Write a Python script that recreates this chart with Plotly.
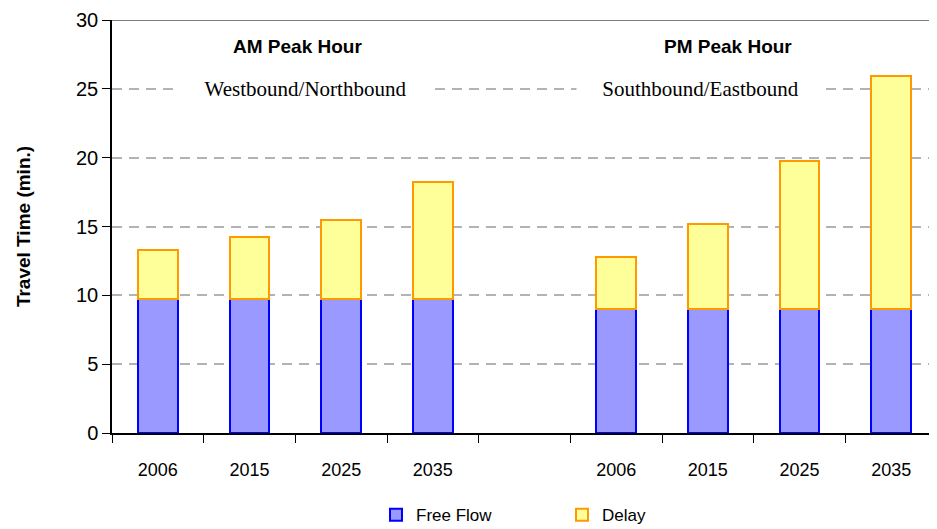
import plotly.graph_objects as go

# values (minutes)
years = ["2006", "2015", "2025", "2035"]
am_free_flow = [9.7, 9.7, 9.7, 9.7]
am_delay = [3.6, 4.55, 5.8, 8.55]
pm_free_flow = [9.0, 9.0, 9.0, 9.0]
pm_delay = [3.8, 6.2, 10.75, 16.9]

# slot layout: 4 AM years, one empty slot, 4 PM years
am_x = list(range(len(years)))
pm_x = [len(years) + 1 + i for i in range(len(years))]
x_pos = am_x + pm_x
labels = years + years
free_flow = am_free_flow + pm_free_flow
delay = am_delay + pm_delay
n_slots = len(years) * 2 + 1

SANS = "Liberation Sans, Arial"
SERIF = "Liberation Serif, Times New Roman"

fig = go.Figure()
fig.add_trace(go.Bar(
    x=x_pos, y=free_flow, name="Free Flow", width=0.43,
    marker=dict(color="#9999ff", line=dict(color="#0000ff", width=2)),
))
fig.add_trace(go.Bar(
    x=x_pos, y=delay, name="Delay", width=0.43,
    marker=dict(color="#ffff99", line=dict(color="#ff9900", width=2)),
))

# header texts over each half
notes = [
    dict(x=1.52, y=28.1, text="<b>AM Peak Hour</b>", font=dict(family=SANS, size=19, color="black")),
    dict(x=6.22, y=28.1, text="<b>PM Peak Hour</b>", font=dict(family=SANS, size=19, color="black")),
    dict(x=1.61, y=25, text="Westbound/Northbound", width=255, height=24, bgcolor="white",
         font=dict(family=SERIF, size=21, color="black")),
    dict(x=5.92, y=25, text="Southbound/Eastbound", width=245, height=24, bgcolor="white",
         font=dict(family=SERIF, size=21, color="black")),
]
for a in notes:
    fig.add_annotation(xref="x", yref="y", showarrow=False, **a)

# grey frame line along the top
fig.add_shape(type="line", xref="paper", yref="y", x0=0, x1=1, y0=30, y1=30,
              line=dict(color="#808080", width=2))

# page body has an 8px margin, so the figure is sized to the rest of the window
fig.update_layout(
    barmode="stack",
    width=929, height=521,
    margin=dict(l=104, r=0, t=12, b=96, autoexpand=False),
    paper_bgcolor="white", plot_bgcolor="white",
    font=dict(family=SANS, size=18, color="black"),
    legend=dict(
        orientation="h", x=0.32, xanchor="left", y=-0.199, yanchor="middle",
        font=dict(family=SANS, size=17, color="black"),
        entrywidth=141, entrywidthmode="pixels", traceorder="normal",
    ),
    showlegend=True,
)
fig.update_xaxes(
    range=[-0.5, n_slots - 0.5], automargin=False,
    tickmode="array", tickvals=x_pos, ticktext=labels,
    ticks="", ticklabelstandoff=20,
    showline=True, linecolor="black", linewidth=1.5,
    showgrid=False, zeroline=False,
    tickfont=dict(family=SANS, size=18),
    minor=dict(tickvals=[i - 0.5 for i in range(n_slots + 1)], ticks="outside",
               ticklen=8, tickcolor="black", tickwidth=1, showgrid=False),
)
fig.update_yaxes(
    range=[0, 30], dtick=5, automargin=False,
    ticks="outside", ticklen=8, tickcolor="black",
    showline=True, linecolor="black", linewidth=1.5,
    showgrid=True, gridcolor="#b3b3b3", gridwidth=1.5, griddash="10px,7px",
    zeroline=False,
    tickfont=dict(family=SANS, size=20),
    title=dict(text="<b>Travel Time (min.)</b>", font=dict(family=SANS, size=19), standoff=40),
)

fig.write_html("out.html")
